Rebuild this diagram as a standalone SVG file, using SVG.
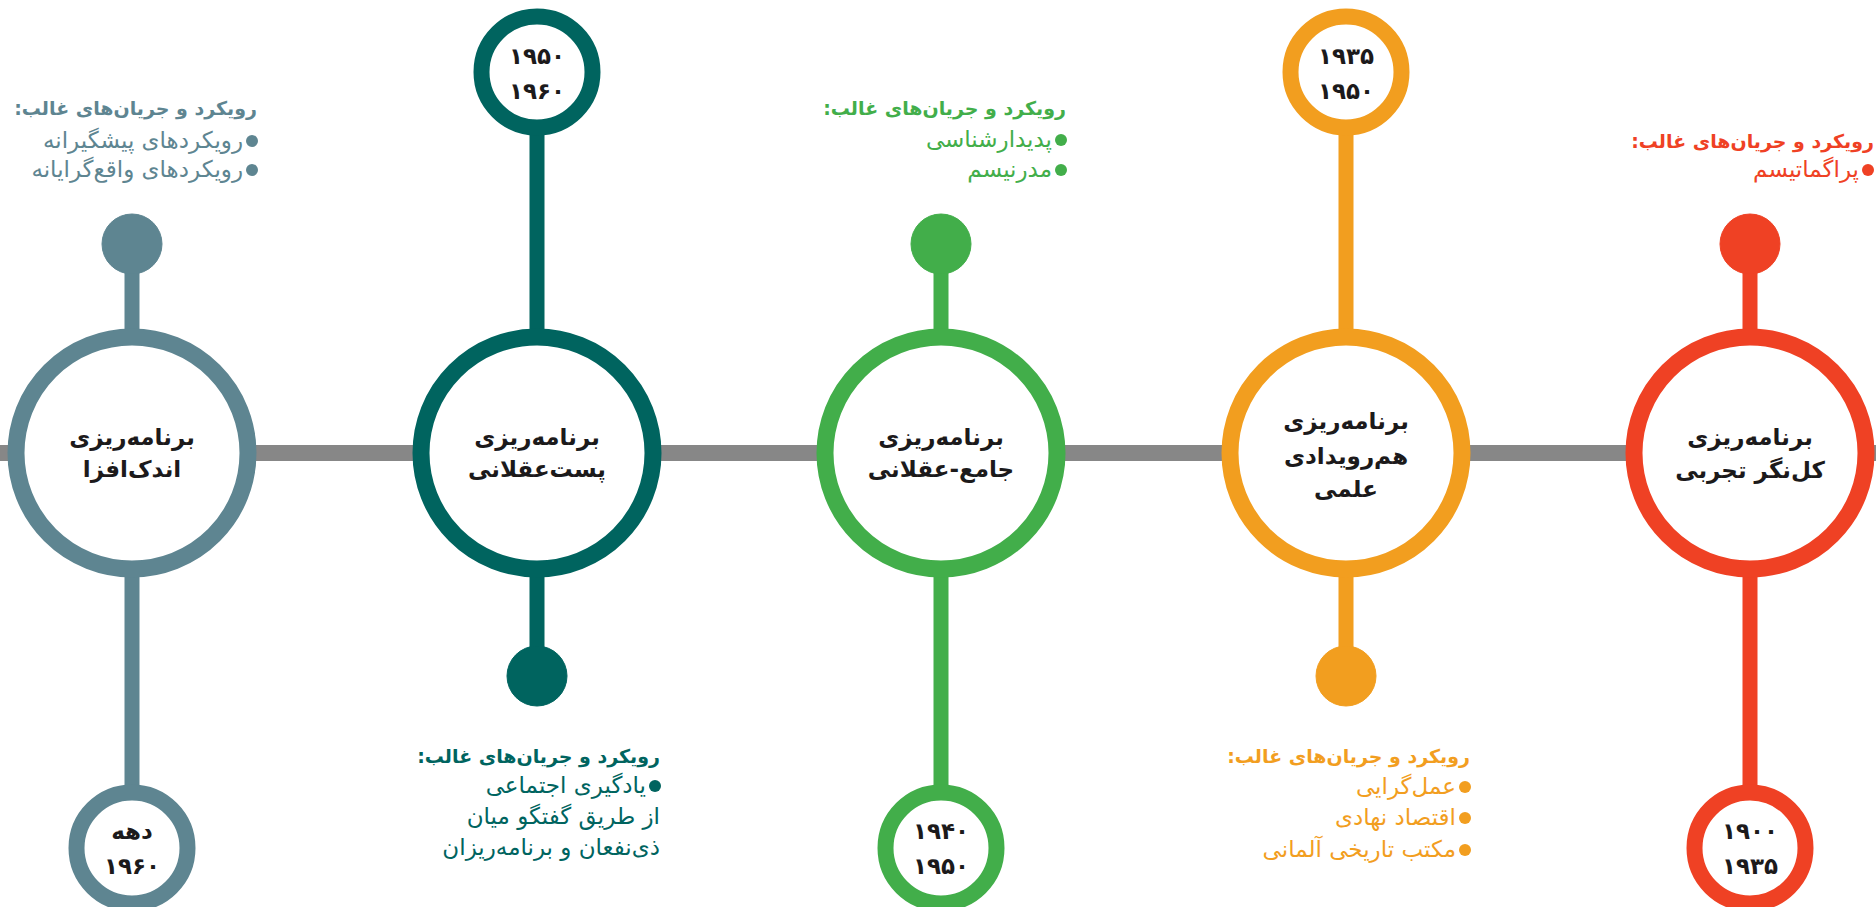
<svg xmlns="http://www.w3.org/2000/svg" width="1876" height="907" viewBox="0 0 1876 907">
<style>
.title{font-family:"DejaVu Sans",sans-serif;font-weight:bold;font-size:23px;fill:#1c1a1b;text-anchor:middle;dominant-baseline:central;}
.yr{font-family:"DejaVu Sans",sans-serif;font-weight:bold;font-size:23px;fill:#1c1a1b;text-anchor:middle;dominant-baseline:central;}
.info{font-family:"DejaVu Sans",sans-serif;font-size:23px;direction:rtl;unicode-bidi:embed;text-anchor:start;dominant-baseline:central;}
.head{font-weight:bold;font-size:19px;}
.main{fill:#fff;stroke-width:17;}
.year{fill:#fff;stroke-width:16;}
.stem{stroke-width:15;}
.c1{stroke:#5e8591;fill:#5e8591;}
.c2{stroke:#00645f;fill:#00645f;}
.c3{stroke:#42ae4a;fill:#42ae4a;}
.c4{stroke:#f29e1f;fill:#f29e1f;}
.c5{stroke:#ef4124;fill:#ef4124;}
.f1{fill:#5e8591;}.f2{fill:#00645f;}.f3{fill:#42ae4a;}.f4{fill:#f29e1f;}.f5{fill:#ef4124;}
</style>
<rect x="0" y="0" width="1876" height="907" fill="#fff"/>
<g id="connectors">
<rect x="0" y="445" width="1876" height="16" fill="#878787"/>
<line class="stem c1" x1="132" y1="244" x2="132" y2="848"/>
<line class="stem c2" x1="537" y1="72" x2="537" y2="676"/>
<line class="stem c3" x1="941" y1="244" x2="941" y2="848"/>
<line class="stem c4" x1="1346" y1="72" x2="1346" y2="676"/>
<line class="stem c5" x1="1750" y1="244" x2="1750" y2="848"/>
</g>

<g id="node1">
<circle class="c1" cx="132" cy="244" r="30" stroke="none"/>
<circle class="main c1" cx="132" cy="453" r="116" style="fill:#fff"/>
<text class="title" x="132" y="437">برنامه‌ریزی</text>
<text class="title" x="132" y="469">اندک‌افزا</text>
<circle class="year c1" cx="132" cy="848" r="55.5" style="fill:#fff"/>
<text class="yr" x="132" y="831">دهه</text>
<text class="yr" x="132" y="866">۱۹۶۰</text>
<g class="f1">
<text class="info head" x="257" y="108">رویکرد و جریان‌های غالب:</text>
<circle cx="252" cy="141" r="6"/>
<text class="info" x="243" y="140">رویکردهای پیشگیرانه</text>
<circle cx="252" cy="170" r="6"/>
<text class="info" x="243" y="169">رویکردهای واقع‌گرایانه</text>
</g>
</g>

<g id="node2">
<circle class="c2" cx="537" cy="676" r="30" stroke="none"/>
<circle class="main c2" cx="537" cy="453" r="116" style="fill:#fff"/>
<text class="title" x="537" y="437">برنامه‌ریزی</text>
<text class="title" x="537" y="469">پست‌عقلانی</text>
<circle class="year c2" cx="537" cy="72" r="55.5" style="fill:#fff"/>
<text class="yr" x="537" y="56">۱۹۵۰</text>
<text class="yr" x="537" y="91">۱۹۶۰</text>
<g class="f2">
<text class="info head" x="660" y="756">رویکرد و جریان‌های غالب:</text>
<circle cx="655" cy="786" r="6"/>
<text class="info" x="646" y="785">یادگیری اجتماعی</text>
<text class="info" x="660" y="816">از طریق گفتگو میان</text>
<text class="info" x="660" y="847">ذی‌نفعان و برنامه‌ریزان</text>
</g>
</g>

<g id="node3">
<circle class="c3" cx="941" cy="244" r="30" stroke="none"/>
<circle class="main c3" cx="941" cy="453" r="116" style="fill:#fff"/>
<text class="title" x="941" y="437">برنامه‌ریزی</text>
<text class="title" x="941" y="469">جامع-عقلانی</text>
<circle class="year c3" cx="941" cy="848" r="55.5" style="fill:#fff"/>
<text class="yr" x="941" y="831">۱۹۴۰</text>
<text class="yr" x="941" y="866">۱۹۵۰</text>
<g class="f3">
<text class="info head" x="1066" y="108">رویکرد و جریان‌های غالب:</text>
<circle cx="1061" cy="140" r="6"/>
<text class="info" x="1052" y="139">پدیدارشناسی</text>
<circle cx="1061" cy="170" r="6"/>
<text class="info" x="1052" y="169">مدرنیسم</text>
</g>
</g>

<g id="node4">
<circle class="c4" cx="1346" cy="676" r="30" stroke="none"/>
<circle class="main c4" cx="1346" cy="453" r="116" style="fill:#fff"/>
<text class="title" x="1346" y="421">برنامه‌ریزی</text>
<text class="title" x="1346" y="456">هم‌رویدادی</text>
<text class="title" x="1346" y="489">علمی</text>
<circle class="year c4" cx="1346" cy="72" r="55.5" style="fill:#fff"/>
<text class="yr" x="1346" y="56">۱۹۳۵</text>
<text class="yr" x="1346" y="91">۱۹۵۰</text>
<g class="f4">
<text class="info head" x="1470" y="756">رویکرد و جریان‌های غالب:</text>
<circle cx="1465" cy="787" r="6"/>
<text class="info" x="1456" y="786">عمل‌گرایی</text>
<circle cx="1465" cy="818" r="6"/>
<text class="info" x="1456" y="817">اقتصاد نهادی</text>
<circle cx="1465" cy="850" r="6"/>
<text class="info" x="1456" y="849">مکتب تاریخی آلمانی</text>
</g>
</g>

<g id="node5">
<circle class="c5" cx="1750" cy="244" r="30" stroke="none"/>
<circle class="main c5" cx="1750" cy="453" r="116" style="fill:#fff"/>
<text class="title" x="1750" y="437">برنامه‌ریزی</text>
<text class="title" x="1750" y="470">کل‌نگر تجربی</text>
<circle class="year c5" cx="1750" cy="848" r="55.5" style="fill:#fff"/>
<text class="yr" x="1750" y="831">۱۹۰۰</text>
<text class="yr" x="1750" y="866">۱۹۳۵</text>
<g class="f5">
<text class="info head" x="1874" y="141">رویکرد و جریان‌های غالب:</text>
<circle cx="1868" cy="170" r="6"/>
<text class="info" x="1859" y="169">پراگماتیسم</text>
</g>
</g>
</svg>
